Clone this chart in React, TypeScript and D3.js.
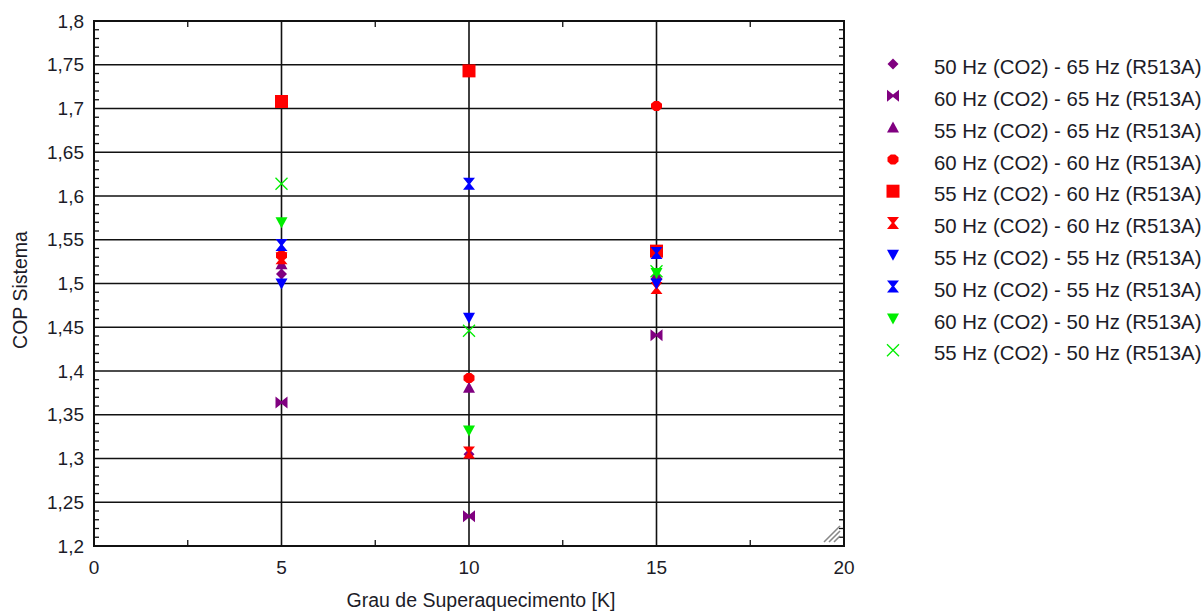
import React from "react";
import * as d3 from "d3";

const xValues = [5, 10, 15];
const seriesNames = [
  "50 Hz (CO2) - 65 Hz (R513A)",
  "60 Hz (CO2) - 65 Hz (R513A)",
  "55 Hz (CO2) - 65 Hz (R513A)",
  "60 Hz (CO2) - 60 Hz (R513A)",
  "55 Hz (CO2) - 60 Hz (R513A)",
  "50 Hz (CO2) - 60 Hz (R513A)",
  "55 Hz (CO2) - 55 Hz (R513A)",
  "50 Hz (CO2) - 55 Hz (R513A)",
  "60 Hz (CO2) - 50 Hz (R513A)",
  "55 Hz (CO2) - 50 Hz (R513A)",
];
const s50_65 = [1.511, 1.305, 1.505];
const s60_65 = [1.364, 1.234, 1.441];
const s55_65 = [1.522, 1.381, 1.51];
const s60_60 = [1.532, 1.392, 1.703];
const s55_60 = [1.708, 1.743, 1.537];
const s50_60 = [1.529, 1.307, 1.495];
const s55_55 = [1.5, 1.461, 1.5];
const s50_55 = [1.544, 1.614, 1.535];
const s60_50 = [1.57, 1.332, 1.512];
const s55_50 = [1.614, 1.446, 1.514];
const seriesValues = [s50_65, s60_65, s55_65, s60_60, s55_60, s50_60, s55_55, s50_55, s60_50, s55_50];
const seriesColors = ["#800080", "#800080", "#800080", "#ff0000", "#ff0000", "#ff0000", "#0000ff", "#0000ff", "#00ee00", "#00ee00"];
const seriesShapes = ["diamond", "bowtie", "triUp", "rdiamond", "square", "hourglass", "triDown", "hourglass", "triDown", "cross"];

const xTicks = [0, 5, 10, 15, 20];
const yTicks = [1.2, 1.25, 1.3, 1.35, 1.4, 1.45, 1.5, 1.55, 1.6, 1.65, 1.7, 1.75, 1.8];
const xLabel = "Grau de Superaquecimento [K]";
const yLabel = "COP Sistema";

const FONT = "'Liberation Sans', Arial, sans-serif";
const TXT = "#1c1c28";

function markerPath(shape: string, cx: number, cy: number): string {
  const p = d3.path();
  if (shape === "diamond") {
    const r = 5.5;
    p.moveTo(cx, cy - r); p.lineTo(cx + r, cy); p.lineTo(cx, cy + r); p.lineTo(cx - r, cy); p.closePath();
  } else if (shape === "rdiamond") {
    const r = 5.5, c = 2.2;
    p.moveTo(cx - c, cy - r + 0.5); p.lineTo(cx + c, cy - r + 0.5); p.lineTo(cx + r, cy - c); p.lineTo(cx + r, cy + c);
    p.lineTo(cx + c, cy + r - 0.5); p.lineTo(cx - c, cy + r - 0.5); p.lineTo(cx - r, cy + c); p.lineTo(cx - r, cy - c); p.closePath();
  } else if (shape === "square") {
    const r = 6.5;
    p.rect(cx - r, cy - r, 2 * r, 2 * r);
  } else if (shape === "triUp") {
    const r = 6;
    p.moveTo(cx, cy - r); p.lineTo(cx + r, cy + r - 1); p.lineTo(cx - r, cy + r - 1); p.closePath();
  } else if (shape === "triDown") {
    const r = 6;
    p.moveTo(cx - r, cy - r + 1); p.lineTo(cx + r, cy - r + 1); p.lineTo(cx, cy + r); p.closePath();
  } else if (shape === "hourglass") {
    const r = 6;
    p.moveTo(cx - r, cy - r); p.lineTo(cx + r, cy - r); p.lineTo(cx + 1.2, cy); p.lineTo(cx + r, cy + r);
    p.lineTo(cx - r, cy + r); p.lineTo(cx - 1.2, cy); p.closePath();
  } else if (shape === "bowtie") {
    const r = 6;
    p.moveTo(cx - r, cy - r); p.lineTo(cx, cy - 1.2); p.lineTo(cx + r, cy - r); p.lineTo(cx + r, cy + r);
    p.lineTo(cx, cy + 1.2); p.lineTo(cx - r, cy + r); p.closePath();
  } else if (shape === "cross") {
    const r = 6;
    p.moveTo(cx - r, cy - r); p.lineTo(cx + r, cy + r); p.moveTo(cx + r, cy - r); p.lineTo(cx - r, cy + r);
  }
  return p.toString();
}

function Marker({ shape, color, cx, cy }: { shape: string; color: string; cx: number; cy: number }) {
  const d = markerPath(shape, cx, cy);
  if (shape === "cross") return <path d={d} stroke={color} strokeWidth={1.3} fill="none" />;
  return <path d={d} fill={color} stroke="none" />;
}

export default function App() {
  const left = 94, right = 844, top = 21, bottom = 546;
  const x = d3.scaleLinear().domain([0, 20]).range([left, right]);
  const y = d3.scaleLinear().domain([1.2, 1.8]).range([bottom, top]);

  const minorY = d3.range(120, 181).map((v) => v / 100).filter((v) => Math.round(v * 100) % 5 !== 0);
  const minorX = [2.5, 7.5, 12.5, 17.5];

  const legendX = 893, legendY0 = 64, legendStep = 31.8;

  return (
    <svg width={1204} height={612} style={{ position: "absolute", left: 0, top: 0, background: "#fff" }} fontFamily={FONT}>
      <rect x={0} y={0} width={1204} height={612} fill="#fff" />
      {yTicks.slice(1, -1).map((t) => (
        <line key={"hg" + t} x1={left} x2={right} y1={y(t)} y2={y(t)} stroke="#111" strokeWidth={1.6} />
      ))}
      {xTicks.slice(1, -1).map((t) => (
        <line key={"vg" + t} x1={x(t)} x2={x(t)} y1={top} y2={bottom} stroke="#111" strokeWidth={1.6} />
      ))}
      {minorY.map((t) => (
        <g key={"my" + t}>
          <line x1={left} x2={left + 5} y1={y(t)} y2={y(t)} stroke="#111" strokeWidth={1.3} />
          <line x1={right} x2={right - 5} y1={y(t)} y2={y(t)} stroke="#111" strokeWidth={1.3} />
        </g>
      ))}
      {minorX.map((t) => (
        <g key={"mx" + t}>
          <line x1={x(t)} x2={x(t)} y1={bottom} y2={bottom - 6} stroke="#111" strokeWidth={1.3} />
          <line x1={x(t)} x2={x(t)} y1={top} y2={top + 6} stroke="#111" strokeWidth={1.3} />
        </g>
      ))}
      <rect x={left} y={top} width={right - left} height={bottom - top} fill="none" stroke="#111" strokeWidth={2} />
      {[0, 5, 10].map((o) => (
        <line key={"h" + o} x1={right - 20 + o} y1={bottom - 4} x2={right - 4} y2={bottom - 20 + o} stroke="#888" strokeWidth={1.6} />
      ))}
      {seriesValues.map((vals, si) =>
        vals.map((v, i) => (
          <Marker key={"p" + si + "-" + i} shape={seriesShapes[si]} color={seriesColors[si]} cx={x(xValues[i])} cy={y(v)} />
        ))
      )}
      {yTicks.map((t) => (
        <text key={"yl" + t} x={84} y={y(t)} dy="0.35em" textAnchor="end" fontSize={19} fill={TXT}>
          {String(t).replace(".", ",")}
        </text>
      ))}
      {xTicks.map((t) => (
        <text key={"xl" + t} x={x(t)} y={574} textAnchor="middle" fontSize={19} fill={TXT}>
          {String(t)}
        </text>
      ))}
      <text x={481} y={607} textAnchor="middle" fontSize={19.5} fill={TXT}>{xLabel}</text>
      <text transform={`translate(27,${290}) rotate(-90)`} textAnchor="middle" fontSize={19.5} fill={TXT}>{yLabel}</text>
      {seriesNames.map((n, i) => {
        const ly = legendY0 + i * legendStep;
        return (
          <g key={"lg" + i}>
            <Marker shape={seriesShapes[i]} color={seriesColors[i]} cx={legendX} cy={ly} />
            <text x={934} y={ly + 3} dy="0.35em" fontSize={20.4} fill={TXT}>{n}</text>
          </g>
        );
      })}
    </svg>
  );
}
